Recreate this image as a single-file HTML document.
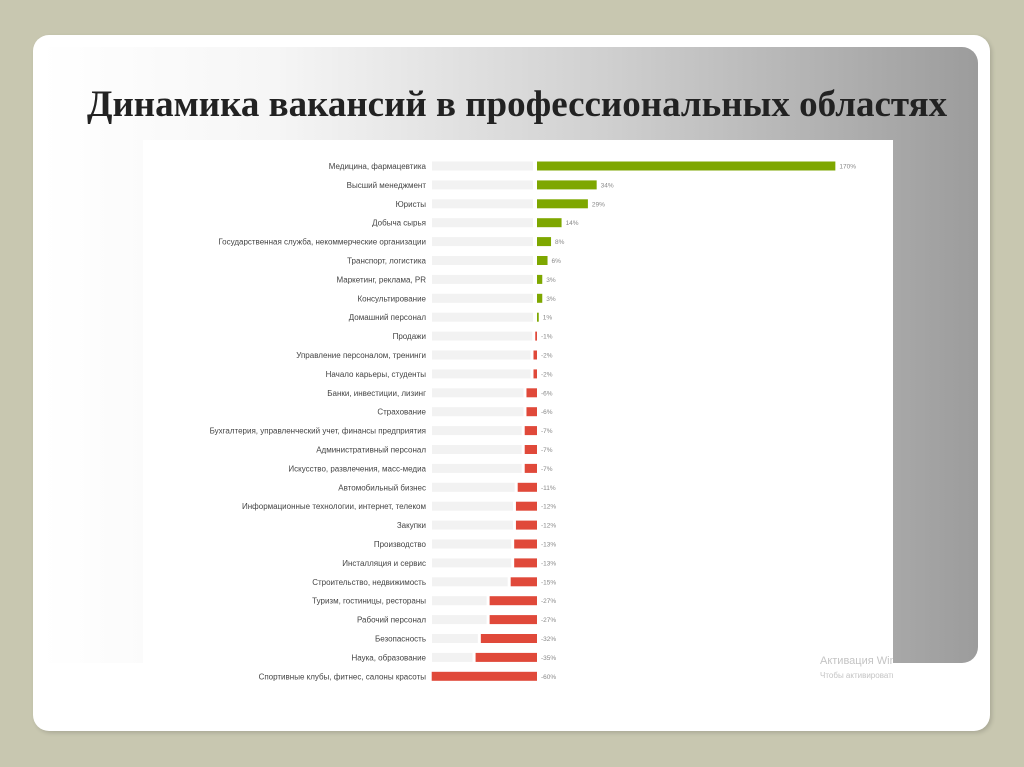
<!DOCTYPE html>
<html><head><meta charset="utf-8"><style>
body{margin:0;width:1024px;height:767px;background:#c8c7b0;overflow:hidden;font-family:"Liberation Sans",sans-serif}
#card{position:absolute;left:33px;top:35px;width:957px;height:696px;background:#fff;border-radius:16px;box-shadow:2px 2px 4px rgba(0,0,0,.15)}
#panel{position:absolute;left:40px;top:47px;width:938px;height:616px;border-radius:0 16px 16px 0;background:linear-gradient(to right,#fff 0%,#f6f6f6 25%,#d0d0d0 60%,#9c9c9c 100%)}
#title{position:absolute;left:87px;top:83px;font:bold 37px "Liberation Serif",serif;color:#222;white-space:nowrap}
#chart{position:absolute;left:143px;top:140px;width:750px;height:550px;background:#fff}
svg{position:absolute;left:0;top:0}
.wm{position:absolute;color:#c4c4c4;white-space:nowrap}
</style></head><body>
<div id="card"></div>
<div id="panel"></div>
<div id="title">Динамика вакансий в профессиональных областях</div>
<div id="chart"></div>
<svg width="1024" height="767" id="svg"></svg>
<div class="wm" style="left:820px;top:655px;font-size:11px;width:73px;overflow:hidden">Активация Windows</div>
<div class="wm" style="left:820px;top:671px;font-size:8px;width:73px;overflow:hidden">Чтобы активировать</div>
<script>
const categories=["Медицина, фармацевтика","Высший менеджмент","Юристы","Добыча сырья","Государственная служба, некоммерческие организации","Транспорт, логистика","Маркетинг, реклама, PR","Консультирование","Домашний персонал","Продажи","Управление персоналом, тренинги","Начало карьеры, студенты","Банки, инвестиции, лизинг","Страхование","Бухгалтерия, управленческий учет, финансы предприятия","Административный персонал","Искусство, развлечения, масс-медиа","Автомобильный бизнес","Информационные технологии, интернет, телеком","Закупки","Производство","Инсталляция и сервис","Строительство, недвижимость","Туризм, гостиницы, рестораны","Рабочий персонал","Безопасность","Наука, образование","Спортивные клубы, фитнес, салоны красоты"];
const values=[170,34,29,14,8,6,3,3,1,-1,-2,-2,-6,-6,-7,-7,-7,-11,-12,-12,-13,-13,-15,-27,-27,-32,-35,-60];
const svg=document.getElementById('svg');const NS='http://www.w3.org/2000/svg';
const x0=537,k=1.755,y0=166,dy=18.9,bh=9,trackL=432;
const xs=v=>x0+v*k;
function mk(t,a){const e=document.createElementNS(NS,t);for(const n in a)e.setAttribute(n,a[n]);svg.appendChild(e);return e;}
categories.forEach((c,i)=>{
 const v=values[i],cy=y0+i*dy;
 const bs=Math.min(xs(v),x0-1.5);
 const tr=mk('rect',{x:trackL,y:cy-bh/2,width:Math.max(0,(v<0?bs-3:533)-trackL),height:bh,fill:'#f2f2f2'});
 
 
 const w=Math.max(Math.abs(xs(v)-x0),1.5);
 const b=mk('rect',{x:v>=0?x0:x0-w,y:cy-bh/2,width:w,height:bh,fill:v>=0?'#7ea700':'#e0493a'});
 
 
 const l=mk('text',{x:426,y:cy+3,'text-anchor':'end','font-size':8,fill:'#444','font-family':'Liberation Sans, sans-serif'});
 l.textContent=c;
 
 
 const vl=mk('text',{x:(v>=0?xs(v)+4:x0+4),y:cy+2.5,'font-size':6.5,fill:'#888','font-family':'Liberation Sans, sans-serif'});
 vl.textContent=v+'%';
 
 
});
</script>
</body></html>
